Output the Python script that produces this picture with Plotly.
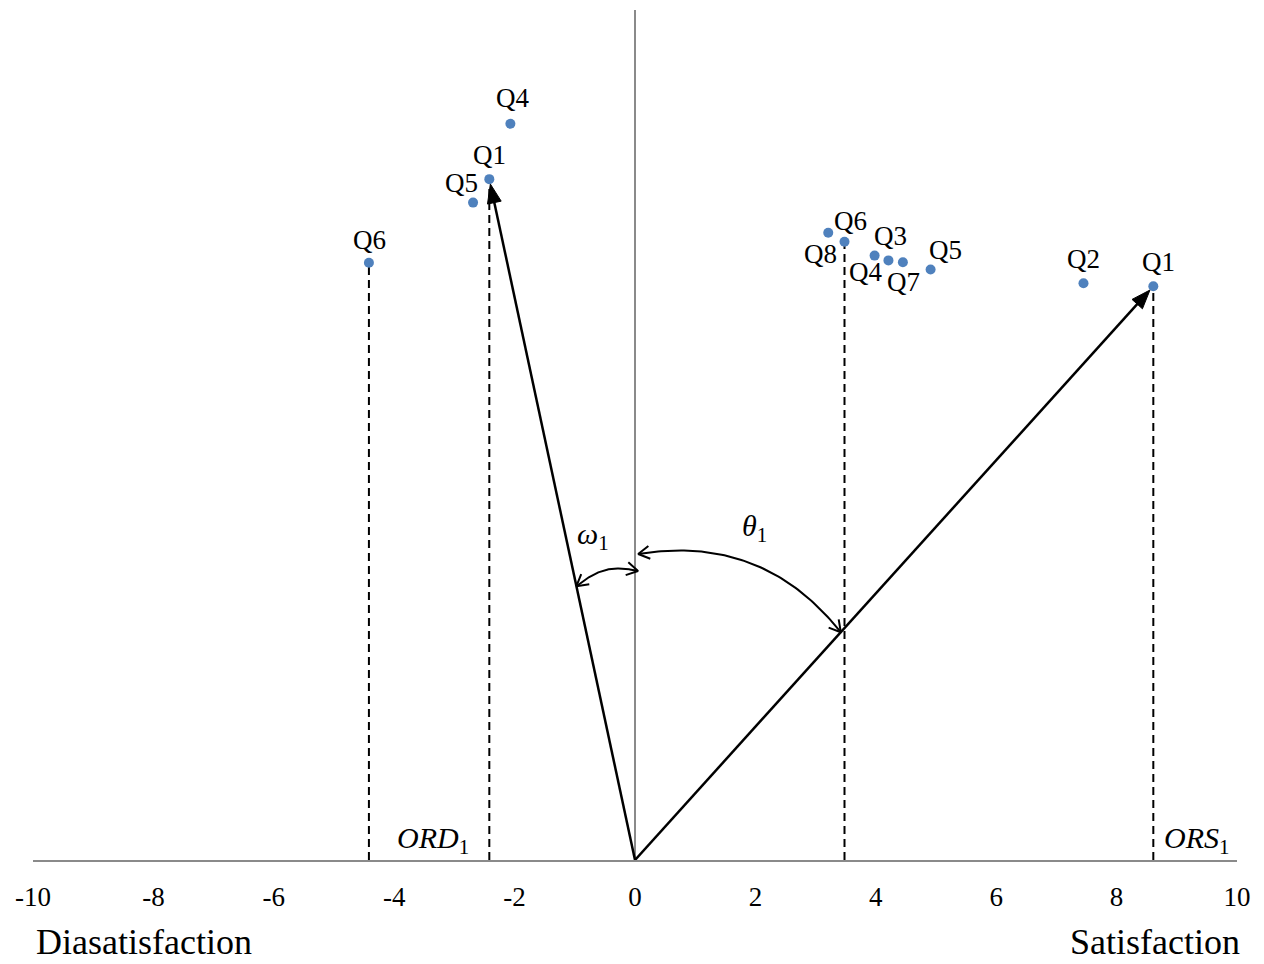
import numpy as np
import plotly.graph_objects as go

# ---------------- data ----------------
sat_labels = ["Q8", "Q6", "Q4", "Q3", "Q7", "Q5", "Q2", "Q1"]
sat_x = [3.21, 3.48, 3.98, 4.21, 4.45, 4.91, 7.45, 8.61]
sat_y = [10.42, 10.27, 10.04, 9.96, 9.93, 9.81, 9.58, 9.53]

dis_labels = ["Q4", "Q1", "Q5", "Q6"]
dis_x = [-2.07, -2.42, -2.69, -4.42]
dis_y = [12.23, 11.31, 10.92, 9.92]

tick_vals = [-10, -8, -6, -4, -2, 0, 2, 4, 6, 8, 10]
tick_text = ["-10", "-8", "-6", "-4", "-2", "0", "2", "4", "6", "8", "10"]

x_title_left = "Diasatisfaction"
x_title_right = "Satisfaction"

# ---------------- layout / style constants ----------------
W, H = 1264, 964
ML, MR, MT, MB = 33, 27, 10, 104
S = (W - ML - MR) / 20.0            # pixels per unit (same on both axes)
Y_MAX = (H - MT - MB) / S
SERIF = "Liberation Serif, Times New Roman, serif"
BLUE = "#4F81BD"
GREY = "#8A8A8A"

# label offsets in pixels (dx right, dy down)
sat_shift = [(-8, 21), (6, -21), (-9, 16), (2, -24), (1, 20), (15, -19), (0, -24), (5, -24)]
dis_shift = [(2, -26), (0, -24), (-12, -20), (1, -23)]

fig = go.Figure()

# ---------------- projection (dashed) lines ----------------
def proj(lbls, xs, ys, names):
    for n in names:
        i = lbls.index(n)
        fig.add_trace(go.Scatter(x=[xs[i], xs[i]], y=[0, ys[i]], mode="lines",
                                 line=dict(color="black", width=2, dash="8px,5px"),
                                 hoverinfo="skip", showlegend=False))

proj(dis_labels, dis_x, dis_y, ["Q6", "Q1"])
proj(sat_labels, sat_x, sat_y, ["Q6", "Q1"])

# ---------------- arcs with open arrow heads ----------------
def curve(phi0, phi1, r0, r1, bulge, n=80):
    t = np.linspace(0, 1, n)
    phi = np.radians(phi0 + (phi1 - phi0) * t)
    r = (r0 + (r1 - r0) * t + bulge * np.sin(np.pi * t)) / S
    return r * np.sin(phi), r * np.cos(phi)

def rot(v, a):
    a = np.radians(a)
    return np.array([v[0] * np.cos(a) - v[1] * np.sin(a), v[0] * np.sin(a) + v[1] * np.cos(a)])

def vhead(xs, ys, at_end, L=13, ang=30):
    if at_end:
        tip = np.array([xs[-1], ys[-1]]); prev = np.array([xs[-4], ys[-4]])
    else:
        tip = np.array([xs[0], ys[0]]); prev = np.array([xs[3], ys[3]])
    d = tip - prev
    d = d / np.linalg.norm(d)
    a1 = tip + L / S * rot(-d, ang)
    a2 = tip + L / S * rot(-d, -ang)
    return [a1[0], tip[0], a2[0]], [a1[1], tip[1], a2[1]]

ors_i = sat_labels.index("Q1")
ord_i = dis_labels.index("Q1")
phi_ors = np.degrees(np.arctan2(sat_x[ors_i], sat_y[ors_i]))
phi_ord = np.degrees(np.arctan2(dis_x[ord_i], dis_y[ord_i]))

arcs = [curve(0.6, phi_ors, 306, 307, 12), curve(phi_ord, 0.6, 280, 289, 7)]
for cx, cy in arcs:
    fig.add_trace(go.Scatter(x=cx, y=cy, mode="lines", line=dict(color="black", width=2),
                             hoverinfo="skip", showlegend=False))
    for end in (True, False):
        hx, hy = vhead(cx, cy, end)
        fig.add_trace(go.Scatter(x=hx, y=hy, mode="lines", line=dict(color="black", width=2),
                                 hoverinfo="skip", showlegend=False))

# ---------------- main vectors ----------------
def vector(x1, y1, standoff=5, hl=19, hw=7):
    v = np.array([x1, y1]); d = v / np.linalg.norm(v)
    tip = v - standoff / S * d
    base = tip - hl / S * d
    p = np.array([-d[1], d[0]])
    fig.add_trace(go.Scatter(x=[0, base[0] + 2 / S * d[0]], y=[0, base[1] + 2 / S * d[1]], mode="lines",
                             line=dict(color="black", width=2.5), hoverinfo="skip", showlegend=False))
    h1 = base + hw / S * p; h2 = base - hw / S * p
    fig.add_trace(go.Scatter(x=[tip[0], h1[0], h2[0], tip[0]], y=[tip[1], h1[1], h2[1], tip[1]],
                             mode="lines", fill="toself", fillcolor="black",
                             line=dict(color="black", width=1), hoverinfo="skip", showlegend=False))

vector(sat_x[ors_i], sat_y[ors_i])
vector(dis_x[ord_i], dis_y[ord_i])

# ---------------- points ----------------
fig.add_trace(go.Scatter(x=sat_x + dis_x, y=sat_y + dis_y, mode="markers",
                         marker=dict(color=BLUE, size=10), hoverinfo="skip", showlegend=False))

for lbls, xs, ys, sh in ((sat_labels, sat_x, sat_y, sat_shift), (dis_labels, dis_x, dis_y, dis_shift)):
    for t, x, y, (dx, dy) in zip(lbls, xs, ys, sh):
        fig.add_annotation(x=x, y=y, xref="x", yref="y", text=t, showarrow=False,
                           xshift=dx, yshift=-dy, xanchor="center", yanchor="middle",
                           font=dict(family=SERIF, size=27, color="black"))

# ---------------- symbol labels ----------------
sym = [("<i>ω</i><sub>1</sub>", -0.69, 5.38), ("<i>θ</i><sub>1</sub>", 1.98, 5.52),
       ("<i>ORD</i><sub>1</sub>", -3.35, 0.33), ("<i>ORS</i><sub>1</sub>", 9.33, 0.33)]
for t, x, y in sym:
    fig.add_annotation(x=x, y=y, xref="x", yref="y", text=t, showarrow=False,
                       xanchor="center", yanchor="middle",
                       font=dict(family=SERIF, size=30, color="black"))

PH = H - MT - MB
PWd = W - ML - MR
fig.add_annotation(x=(34 - ML) / PWd, y=-(964 - (H - MB)) / PH,
                   xref="paper", yref="paper", text=x_title_left, showarrow=False,
                   xanchor="left", yanchor="bottom", font=dict(family=SERIF, size=36, color="black"))
fig.add_annotation(x=(1242 - ML) / PWd, y=-(964 - (H - MB)) / PH,
                   xref="paper", yref="paper", text=x_title_right, showarrow=False,
                   xanchor="right", yanchor="bottom", font=dict(family=SERIF, size=36, color="black"))

fig.update_layout(
    width=W, height=H,
    margin=dict(l=ML, r=MR, t=MT, b=MB, autoexpand=False),
    paper_bgcolor="white", plot_bgcolor="white",
    xaxis=dict(range=[-10, 10], tickvals=tick_vals, ticktext=tick_text,
               showgrid=False, zeroline=True, zerolinecolor=GREY, zerolinewidth=2,
               showline=True, linecolor=GREY, linewidth=2, ticks="",
               ticklabelstandoff=12,
               tickfont=dict(family=SERIF, size=27, color="black")),
    yaxis=dict(range=[0, Y_MAX], showgrid=False, zeroline=False, showline=False,
               showticklabels=False, ticks=""),
)

fig.write_html("out.html", config={"displayModeBar": False},
               post_script="document.body.style.margin='0';")
